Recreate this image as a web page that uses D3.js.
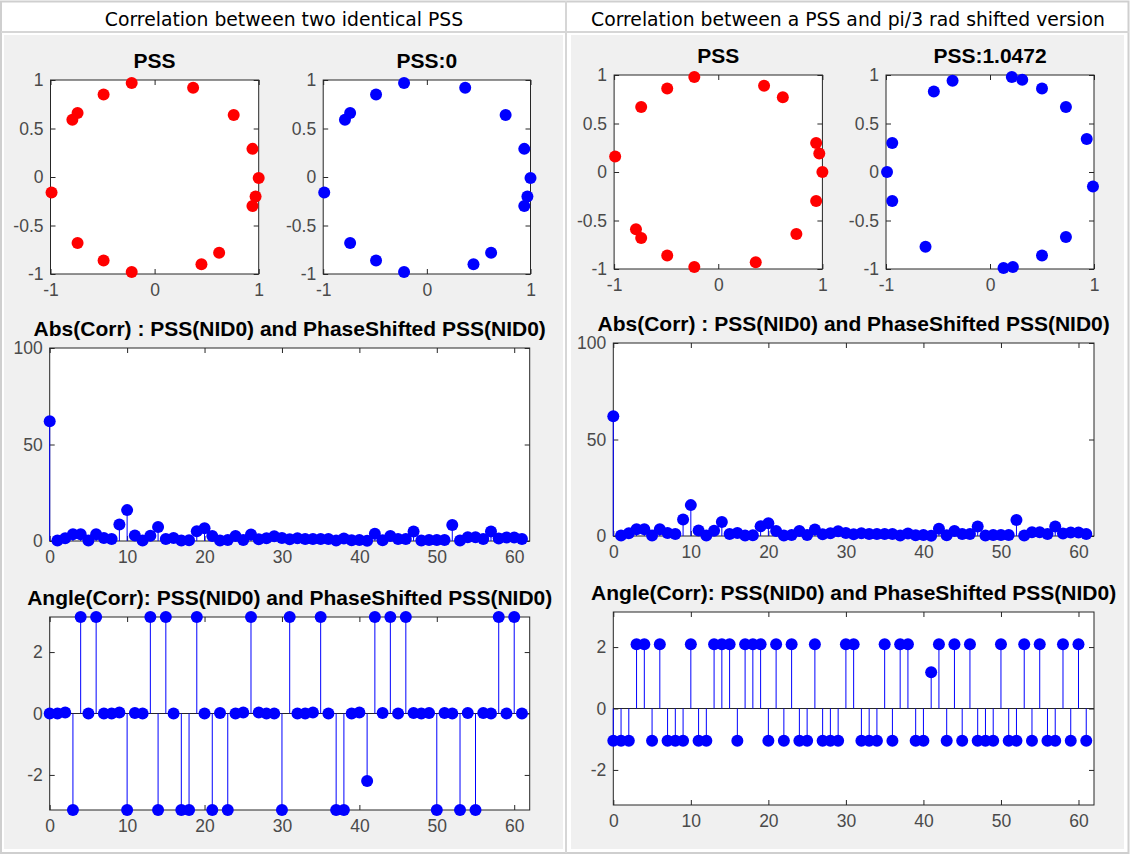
<!DOCTYPE html>
<html>
<head>
<meta charset="utf-8">
<script src="https://cdn.jsdelivr.net/npm/d3@7"></script>
<style>
body { margin: 0; background: #ffffff; }
svg text { font-family: "Liberation Sans", Arial, sans-serif; }
</style>
</head>
<body>
<svg id="chart" width="1135" height="860"></svg>
<script>
// ---- data ----
var headers = ["Correlation between two identical PSS", "Correlation between a PSS and pi/3 rad shifted version"]

// left column: PSS and PSS:0 (same points)
var pssLeftX  = [-0.22, 0.37, -0.49, -0.74, -0.79, 0.76, 0.94, 1.00, 0.97, 0.94, -0.99, -0.74, -0.49, -0.22, 0.45, 0.62]
var pssLeftY  = [0.97, 0.92, 0.85, 0.66, 0.59, 0.64, 0.29, -0.01, -0.20, -0.30, -0.16, -0.68, -0.86, -0.98, -0.90, -0.78]
var pssZeroX  = [-0.22, 0.37, -0.49, -0.74, -0.79, 0.76, 0.94, 1.00, 0.97, 0.94, -0.99, -0.74, -0.49, -0.22, 0.45, 0.62]
var pssZeroY  = [0.97, 0.92, 0.85, 0.66, 0.59, 0.64, 0.29, -0.01, -0.20, -0.30, -0.16, -0.68, -0.86, -0.98, -0.90, -0.78]

// right column: PSS and PSS:1.0472
var pssRightX = [-0.23, 0.44, -0.49, 0.62, -0.74, 0.94, 0.97, 1.00, -0.99, 0.94, -0.79, -0.74, 0.75, -0.49, -0.23, 0.36]
var pssRightY = [0.98, 0.89, 0.86, 0.77, 0.67, 0.30, 0.19, 0.00, 0.16, -0.30, -0.59, -0.68, -0.64, -0.86, -0.98, -0.93]
var pssShiftX = [0.21, 0.31, -0.36, -0.54, 0.50, 0.73, 0.93, -0.94, -0.99, 0.99, -0.94, -0.62, 0.73, 0.50, 0.13, 0.22]
var pssShiftY = [0.98, 0.95, 0.94, 0.83, 0.86, 0.67, 0.34, 0.30, 0.00, -0.15, -0.30, -0.77, -0.67, -0.86, -0.99, -0.98]

// abs(corr), lags 0..61
var absCorr = [62, 0.3, 1.4, 3.5, 3.5, 0.2, 3.5, 1.5, 1.0, 8.5,
               16, 2.8, 0.2, 2.7, 7.3, 1.0, 1.5, 0.2, 0.4, 5.0,
               6.6, 2.6, 0.3, 0.5, 2.6, 0.5, 3.4, 0.9, 1.4, 2.5,
               1.6, 0.9, 1.4, 1.0, 1.0, 1.0, 1.0, 0.3, 1.3, 0.4,
               0.5, 0.1, 3.8, 0.4, 2.6, 1.0, 1.0, 4.9, 0.3, 0.5,
               0.5, 0.5, 8.3, 0.2, 2.0, 2.0, 1.0, 4.9, 1.3, 1.8,
               1.8, 1.0]

// angle(corr), lags 0..61
var angleLeft = [0, 0, 0.03, -3.14, 3.14, 0, 3.14, 0, 0, 0.03,
                 -3.14, 0.02, 0, 3.14, -3.14, 3.14, 0, -3.14, -3.14, 3.14,
                 0, -3.14, 0.02, -3.14, 0, 0.03, 3.14, 0.03, 0, 0,
                 -3.14, 3.14, 0, 0, 0.03, 3.14, 0, -3.14, -3.14, 0,
                 0.03, -2.2, 3.14, 0.02, 3.14, 0, 3.14, 0.02, 0, 0.02,
                 -3.14, 0.02, 0, -3.14, 0.02, -3.14, 0.02, 0, 3.14, 0,
                 3.14, 0]
var angleRight = [-1.05, -1.05, -1.05, 2.09, 2.09, -1.05, 2.09, -1.05, -1.05, -1.05,
                  2.09, -1.05, -1.05, 2.09, 2.09, 2.09, -1.05, 2.09, 2.09, 2.09,
                  -1.05, 2.09, -1.05, 2.09, -1.05, -1.05, 2.09, -1.05, -1.05, -1.05,
                  2.09, 2.09, -1.05, -1.05, -1.05, 2.09, -1.05, 2.09, 2.09, -1.05,
                  -1.05, 1.18, 2.09, -1.05, 2.09, -1.05, 2.09, -1.05, -1.05, -1.05,
                  2.09, -1.05, -1.05, 2.09, -1.05, 2.09, -1.05, -1.05, 2.09, -1.05,
                  2.09, -1.05]

var iqXTicks = [-1, 0, 1],
    iqYTicks = [-1, -0.5, 0, 0.5, 1],
    lagTicks = [0, 10, 20, 30, 40, 50, 60],
    absTicks = [0, 50, 100],
    angleTicks = [-2, 0, 2]

var absTitle = "Abs(Corr) : PSS(NID0) and PhaseShifted PSS(NID0)",
    angleTitle = "Angle(Corr): PSS(NID0) and PhaseShifted PSS(NID0)"

// ---- drawing ----
var svg = d3.select("#chart")
var axisColor = "#262626", tickText = "#4a4a4a"

// table frame
svg.append("rect").attr("x", 4).attr("y", 35).attr("width", 559).attr("height", 814).attr("fill", "#f0f0f0")
svg.append("rect").attr("x", 571).attr("y", 35).attr("width", 553).attr("height", 814).attr("fill", "#f0f0f0")
svg.append("rect").attr("x", 1).attr("y", 1.5).attr("width", 1127.5).attr("height", 851.5)
   .attr("fill", "none").attr("stroke", "#cfcfcf").attr("stroke-width", 2)
svg.append("line").attr("x1", 1).attr("x2", 1129).attr("y1", 32).attr("y2", 32).attr("stroke", "#d6d6d6").attr("stroke-width", 2)
svg.append("line").attr("x1", 566).attr("x2", 566).attr("y1", 1).attr("y2", 853).attr("stroke", "#d6d6d6").attr("stroke-width", 2)

svg.selectAll(".hdr")
   .data(headers)
   .enter()
   .append("text")
   .attr("class", "hdr")
   .attr("x", (d, i) => i == 0 ? 284 : 848)
   .attr("y", 26)
   .attr("text-anchor", "middle")
   .style("font-family", "'DejaVu Sans', Verdana, sans-serif")
   .style("font-size", "18.8px")
   .text(d => d)

function drawFrame (g, x, y, xTicks, yTicks) {
	var x0 = x.range()[0], x1 = x.range()[1],
	    y0 = y.range()[0], y1 = y.range()[1]
	g.append("rect").attr("x", x0).attr("y", y1).attr("width", x1 - x0).attr("height", y0 - y1).attr("fill", "#fff")

	var fmt = d => String(d)
	var bottom = g.append("g").attr("transform", "translate(0," + y0 + ")")
	    .call(d3.axisBottom(x).tickValues(xTicks).tickSizeInner(-5).tickSizeOuter(0).tickPadding(10).tickFormat(fmt))
	var top = g.append("g").attr("transform", "translate(0," + y1 + ")")
	    .call(d3.axisTop(x).tickValues(xTicks).tickSizeInner(-5).tickSizeOuter(0).tickFormat(""))
	var left = g.append("g").attr("transform", "translate(" + x0 + ",0)")
	    .call(d3.axisLeft(y).tickValues(yTicks).tickSizeInner(-5).tickSizeOuter(0).tickPadding(7).tickFormat(fmt))
	var right = g.append("g").attr("transform", "translate(" + x1 + ",0)")
	    .call(d3.axisRight(y).tickValues(yTicks).tickSizeInner(-5).tickSizeOuter(0).tickFormat(""))

	;[bottom, top, left, right].forEach(a => {
		a.select(".domain").remove()
		a.selectAll("line").attr("stroke", axisColor)
		a.selectAll("text").attr("fill", tickText).style("font-size", "17.5px")
		  .style("font-family", "'Liberation Sans', Arial, sans-serif")
	})
	g.append("rect").attr("x", x0).attr("y", y1).attr("width", x1 - x0).attr("height", y0 - y1)
	 .attr("fill", "none").attr("stroke", axisColor).attr("stroke-width", 1)
}

function title (g, cx, baseY, txt) {
	g.append("text")
	 .attr("x", cx).attr("y", baseY)
	 .attr("text-anchor", "middle")
	 .style("font-size", "21px")
	 .style("font-weight", "bold")
	 .style("fill", "#000")
	 .text(txt)
}

function scatterPanel (box, xs, ys, color, txt) {
	var g = svg.append("g")
	var x = d3.scaleLinear().domain([-1, 1]).range([box[0], box[1]]),
	    y = d3.scaleLinear().domain([-1, 1]).range([box[3], box[2]])
	drawFrame(g, x, y, iqXTicks, iqYTicks)
	title(g, (box[0] + box[1]) / 2, box[2] - 12, txt)
	g.selectAll(".iq-dot")
	 .data(xs.map((v, i) => ({x: v, y: ys[i]})))
	 .enter()
	 .append("circle")
	 .attr("class", "iq-dot")
	 .attr("r", 6)
	 .attr("cx", d => x(d.x))
	 .attr("cy", d => y(d.y))
	 .style("fill", color)
}

function stemPanel (box, values, yDomain, yTicks, txt, baseline) {
	var g = svg.append("g")
	var x = d3.scaleLinear().domain([0, 62]).range([box[0], box[1]]),
	    y = d3.scaleLinear().domain(yDomain).range([box[3], box[2]])
	drawFrame(g, x, y, lagTicks, yTicks)
	title(g, (box[0] + box[1]) / 2, box[2] - 12, txt)
	if (baseline) {
		g.append("line").attr("x1", x(0)).attr("x2", x(62)).attr("y1", y(0)).attr("y2", y(0))
		 .attr("stroke", axisColor).attr("stroke-width", 1)
	}
	g.selectAll(".stem")
	 .data(values)
	 .enter()
	 .append("line")
	 .attr("class", "stem")
	 .attr("x1", (d, i) => x(i)).attr("x2", (d, i) => x(i))
	 .attr("y1", y(0)).attr("y2", d => y(d))
	 .attr("stroke", "#0000ff").attr("stroke-width", 1)
	g.selectAll(".stem-dot")
	 .data(values)
	 .enter()
	 .append("circle")
	 .attr("class", "stem-dot")
	 .attr("r", 6)
	 .attr("cx", (d, i) => x(i))
	 .attr("cy", d => y(d))
	 .style("fill", "#0000ff")
}

// boxes: [left, right, top, bottom]
scatterPanel([50.5, 258.7, 80, 274], pssLeftX, pssLeftY, "#ff0000", "PSS")
scatterPanel([323.2, 530.5, 80, 274], pssZeroX, pssZeroY, "#0000ff", "PSS:0")
scatterPanel([614.1, 822.4, 75, 269], pssRightX, pssRightY, "#ff0000", "PSS")
scatterPanel([886, 1094, 75, 269], pssShiftX, pssShiftY, "#0000ff", "PSS:1.0472")

stemPanel([49.7, 529.7, 348, 541], absCorr, [0, 100], absTicks, absTitle, false)
stemPanel([613.3, 1094, 343, 536], absCorr, [0, 100], absTicks, absTitle, false)
stemPanel([49.7, 529.7, 617, 810], angleLeft, [-Math.PI, Math.PI], angleTicks, angleTitle, true)
stemPanel([613.3, 1094, 612, 805], angleRight, [-Math.PI, Math.PI], angleTicks, angleTitle, true)
</script>
</body>
</html>
